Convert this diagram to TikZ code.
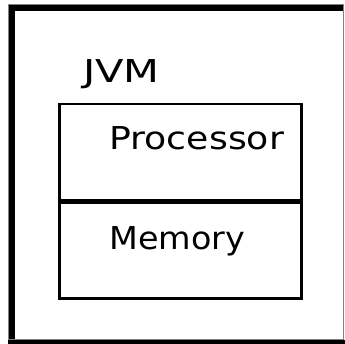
\documentclass[tikz,border=0pt]{standalone}
\usepackage{fontspec}
\setmainfont{DejaVu Sans}
\usetikzlibrary{positioning,calc}

\tikzset{
  part/.style={draw=black, line width=2.5bp, rectangle, minimum width=242bp, minimum height=96bp, inner sep=0pt},
  word/.style={inner sep=0pt, anchor=base west, font=\fontsize{31.5bp}{38bp}\selectfont}
}

\begin{document}
\begin{tikzpicture}[x=1bp, y=-1bp]
  \useasboundingbox (0,0) rectangle (345,344);
  % frame
  \fill[black] (9,5) rectangle (15,340);
  \fill[black] (9,5) rectangle (343,11);
  \fill[black] (8,340) rectangle (345,344);
  \draw[gray, line width=1bp] (8.5,4.5) rectangle (343.5,339.5);
  % boxes
  \node (proc) [part] at (180.5,152) {};
  \node (mem) [part, below=0pt of proc] {};
  % texts
  \node (jvm) [word, xscale=1.32] at (83,82) {JVM};
  \node (proctext) [word, xscale=1.15] at ($(proc.north west)+(51,47)$) {Processor};
  \node (memtext) [word, xscale=1.06] at ($(mem.north west)+(51,48)$) {Memory};
\end{tikzpicture}
\end{document}
